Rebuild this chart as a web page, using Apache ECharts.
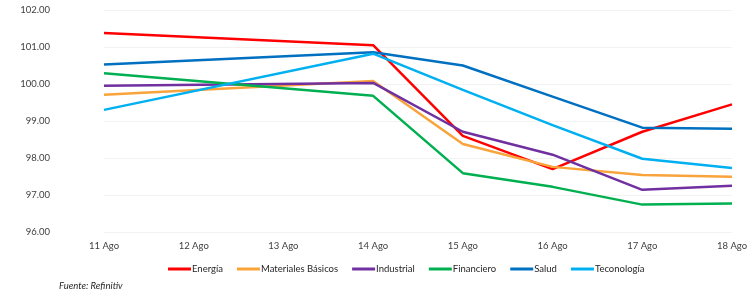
<!DOCTYPE html>
<html>
<head>
<meta charset="utf-8">
<script src="https://cdn.jsdelivr.net/npm/echarts@6/dist/echarts.min.js"></script>
<style>
  html, body { margin: 0; padding: 0; background: #fff; }
  #chart { width: 756px; height: 296px; }
</style>
</head>
<body>
<div id="chart"></div>
<script>
// dates on the x axis (12 and 13 have no data, lines run straight across)
const days = ['11 Ago', '12 Ago', '13 Ago', '14 Ago', '15 Ago', '16 Ago', '17 Ago', '18 Ago'];

const energia    = [101.38, null, null, 101.05, 98.60, 97.70, 98.71, 99.45];
const materiales = [99.71, null, null, 100.08, 98.38, 97.76, 97.54, 97.49];
const industrial = [99.95, null, null, 100.03, 98.71, 98.09, 97.14, 97.25];
const financiero = [100.29, null, null, 99.68, 97.59, 97.22, 96.74, 96.77];
const salud      = [100.53, null, null, 100.86, 100.50, 99.66, 98.82, 98.79];
const tecnologia = [99.30, null, null, 100.82, 99.84, 98.89, 97.98, 97.73];

const seriesInfo = [
  { name: 'Energía', data: energia, color: '#ff0000' },
  { name: 'Materiales Básicos', data: materiales, color: '#f9a33b' },
  { name: 'Industrial', data: industrial, color: '#7030a0' },
  { name: 'Financiero', data: financiero, color: '#00b050' },
  { name: 'Salud', data: salud, color: '#0070c0' },
  { name: 'Teconología', data: tecnologia, color: '#00b0f0' }
];

const font = 'Lato, "Open Sans", sans-serif';
const chart = echarts.init(document.getElementById('chart'));

chart.setOption({
  backgroundColor: '#ffffff',
  animation: false,
  textStyle: { fontFamily: font },
  grid: { left: 104, right: 24, top: 10, bottom: 64 },
  legend: {
    top: 259,
    left: 163,
    icon: 'rect',
    itemWidth: 23,
    itemHeight: 3,
    itemGap: 14,
    textStyle: { fontSize: 9.5, color: '#262626', fontFamily: font, padding: [0, 0, 0, -4] },
    data: seriesInfo.map(s => s.name)
  },
  graphic: [{
    type: 'text',
    left: 59,
    top: 281,
    style: { text: 'Fuente: Refinitiv', fontSize: 9.5, fontStyle: 'italic', fill: '#262626', fontFamily: font }
  }],
  xAxis: {
    type: 'category',
    data: days,
    boundaryGap: false,
    axisLine: { show: false },
    axisTick: { show: false },
    axisLabel: { color: '#404040', fontSize: 9.5, margin: 9 },
    splitLine: { show: false }
  },
  yAxis: {
    type: 'value',
    min: 96,
    max: 102,
    interval: 1,
    axisLine: { show: false },
    axisTick: { show: false },
    axisLabel: {
      color: '#404040',
      fontSize: 9.5,
      margin: 54,
      formatter: v => v.toFixed(2)
    },
    splitLine: { lineStyle: { color: '#f2f2f2', width: 1 } }
  },
  series: seriesInfo.map(s => ({
    name: s.name,
    type: 'line',
    data: s.data,
    connectNulls: true,
    symbol: 'none',
    color: s.color,
    lineStyle: { width: 2.5, color: s.color }
  }))
});
</script>
</body>
</html>
